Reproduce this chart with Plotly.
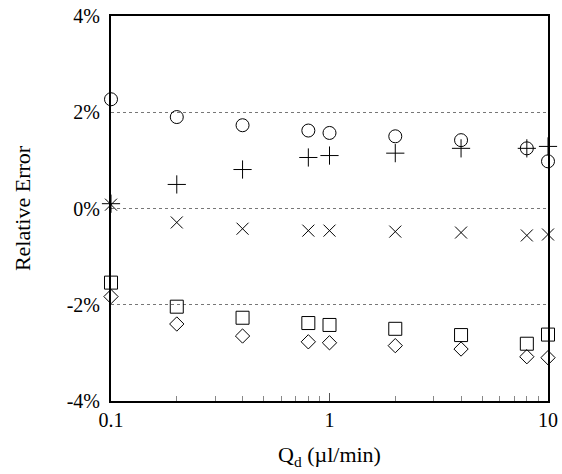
import plotly.graph_objects as go

qd = [0.1, 0.2, 0.4, 0.8, 1, 2, 4, 8, 10]
circle_err = [2.27, 1.9, 1.73, 1.62, 1.57, 1.5, 1.42, 1.25, 0.98]
plus_err = [0.1, 0.5, 0.81, 1.06, 1.1, 1.15, 1.25, 1.25, 1.29]
x_err = [0.08, -0.29, -0.42, -0.46, -0.46, -0.48, -0.5, -0.56, -0.54]
square_err = [-1.54, -2.04, -2.27, -2.38, -2.42, -2.5, -2.63, -2.81, -2.62]
diamond_err = [-1.83, -2.4, -2.65, -2.77, -2.79, -2.85, -2.92, -3.08, -3.1]

ytick_vals = [-4, -2, 0, 2, 4]
ytick_text = ["-4%", "-2%", "0%", "2%", "4%"]
xtick_vals = [0.1, 1, 10]
xtick_text = ["0.1", "1", "10"]
xminor_vals = [0.2, 0.3, 0.4, 0.5, 0.6, 0.7, 0.8, 0.9, 2, 3, 4, 5, 6, 7, 8, 9]

series = [
    (circle_err, "circle-open", 13),
    (plus_err, "cross-thin-open", 13),
    (x_err, "x-thin-open", 12),
    (square_err, "square-open", 13),
    (diamond_err, "diamond-open", 11),
]

fig = go.Figure()
for ys, sym, sz in series:
    fig.add_trace(go.Scatter(
        x=qd, y=ys, mode="markers", cliponaxis=False, showlegend=False,
        hoverinfo="skip",
        marker=dict(symbol=sym, size=sz, color="black",
                    line=dict(color="black", width=1)),
    ))

tick_font = dict(family="Liberation Serif", size=20, color="black")
title_font = dict(family="Liberation Serif", size=22, color="black")

fig.update_layout(
    width=562, height=474,
    margin=dict(l=111, r=14, t=16, b=73),
    paper_bgcolor="white", plot_bgcolor="white",
    font=tick_font,
    xaxis=dict(
        type="log", range=[-1, 1], automargin=False,
        tickvals=xtick_vals, ticktext=xtick_text, tickfont=tick_font,
        ticks="inside", ticklen=8, tickcolor="#555", tickwidth=1,
        minor=dict(tickvals=xminor_vals, ticks="inside", ticklen=5,
                   tickcolor="#888", tickwidth=1, showgrid=False),
        showgrid=False, zeroline=False,
        showline=True, linecolor="black", linewidth=2, mirror=True,
        title=dict(text="Q<sub>d</sub> (µl/min)", font=title_font, standoff=17),
    ),
    yaxis=dict(
        range=[-4, 4], automargin=False,
        tickvals=ytick_vals, ticktext=ytick_text, tickfont=tick_font,
        ticks="", ticklabelstandoff=5,
        showgrid=True, gridcolor="#777", griddash="dot", gridwidth=1,
        zeroline=False,
        showline=True, linecolor="black", linewidth=2, mirror=True,
        title=dict(text="Relative Error", font=title_font, standoff=30),
    ),
)

fig.write_html("out.html", config={"displayModeBar": False},
               post_script="document.body.style.margin='0';")
